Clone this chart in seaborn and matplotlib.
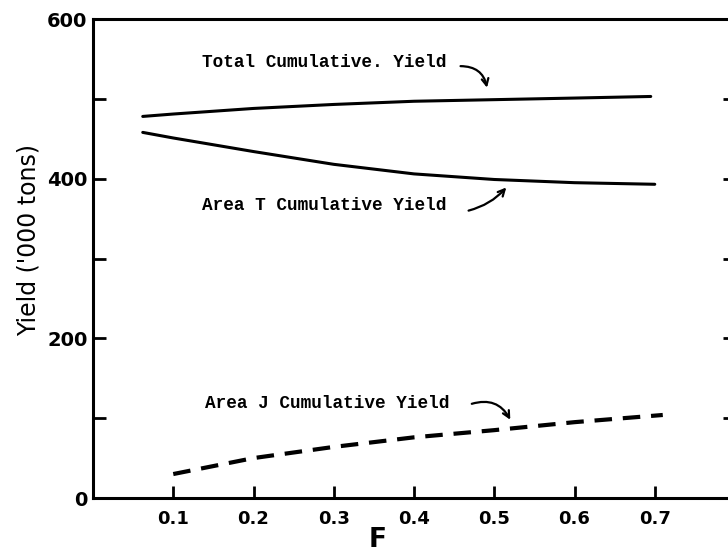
import matplotlib
matplotlib.use("Agg")
import matplotlib.pyplot as plt
import seaborn as sns
import pandas as pd

# ---- data ----
f_total = [0.062, 0.1, 0.2, 0.3, 0.4, 0.5, 0.6, 0.695]
total_yield = [478, 481, 488, 493, 497, 499, 501, 503]

f_area_t = [0.062, 0.1, 0.2, 0.3, 0.4, 0.5, 0.6, 0.70]
area_t_yield = [458, 451, 434, 418, 406, 399, 395, 393]

f_area_j = [0.10, 0.2, 0.3, 0.4, 0.5, 0.6, 0.71]
area_j_yield = [30, 50, 64, 76, 85, 95, 104]

x_ticks = [0.1, 0.2, 0.3, 0.4, 0.5, 0.6, 0.7]
x_tick_labels = ["0.1", "0.2", "0.3", "0.4", "0.5", "0.6", "0.7"]
y_ticks = [0, 100, 200, 300, 400, 500, 600]
y_tick_labels = ["0", "", "200", "", "400", "", "600"]

label_total = "Total Cumulative. Yield"
label_t = "Area T Cumulative Yield"
label_j = "Area J Cumulative Yield"

sns.set_theme(style="white")
plt.rcParams["font.family"] = ["DejaVu Sans"]

fig = plt.figure(figsize=(7.28, 5.55), dpi=100)
ax = fig.add_axes([93 / 728, 57 / 555, (735 - 93) / 728, 0.863])

df_total = pd.DataFrame({"F": f_total, "Yield": total_yield})
df_t = pd.DataFrame({"F": f_area_t, "Yield": area_t_yield})
df_j = pd.DataFrame({"F": f_area_j, "Yield": area_j_yield})

sns.lineplot(data=df_total, x="F", y="Yield", ax=ax, color="black", lw=2.2)
sns.lineplot(data=df_t, x="F", y="Yield", ax=ax, color="black", lw=2.2)
sns.lineplot(data=df_j, x="F", y="Yield", ax=ax, color="black", lw=3.0,
             linestyle=(0, (4.2, 2.6)))

ax.set_xlim(0, 0.8)
ax.set_ylim(0, 600)

for side in ["left", "bottom", "top"]:
    ax.spines[side].set_visible(True)
    ax.spines[side].set_color("black")
    ax.spines[side].set_linewidth(2.2)
ax.spines["right"].set_visible(False)

ax.set_xticks(x_ticks)
ax.set_xticklabels(x_tick_labels, fontsize=13, fontweight="bold")
ax.set_yticks(y_ticks)
ax.set_yticklabels(y_tick_labels, fontsize=14, fontweight="bold")
ax.tick_params(axis="x", direction="in", length=9, width=2, bottom=True, pad=9,
               colors="black", labelcolor="black")
ax.tick_params(axis="y", direction="in", length=9, width=2, left=True, right=True, pad=4,
               colors="black", labelcolor="black")

ax.set_xlabel("F", fontsize=19, fontweight="bold", color="black")
ax.xaxis.set_label_coords(0.444, -0.088)
ax.xaxis.label.set_va("center")
ax.set_ylabel("Yield ('000 tons)", fontsize=17, color="black")
ax.yaxis.set_label_coords(-0.101, 0.539)
ax.yaxis.label.set_va("center")

mono = dict(family=["Liberation Mono", "DejaVu Sans Mono"], fontsize=12.8,
            fontweight="bold", color="black", va="center", ha="left")
arrow = dict(arrowstyle="->", color="black", lw=1.6, shrinkA=0, shrinkB=0)

ax.text(0.136, 545, label_total, **mono)
ax.annotate("", xy=(0.491, 514), xytext=(0.458, 541),
            arrowprops=dict(connectionstyle="arc3,rad=-0.4", **arrow))

ax.text(0.136, 366, label_t, **mono)
ax.annotate("", xy=(0.515, 389), xytext=(0.468, 360),
            arrowprops=dict(connectionstyle="arc3,rad=0.15", **arrow))

ax.text(0.14, 118, label_j, **mono)
ax.annotate("", xy=(0.52, 98), xytext=(0.472, 118),
            arrowprops=dict(connectionstyle="arc3,rad=-0.4", **arrow))

fig.savefig("out.png", dpi=100, facecolor="white")
